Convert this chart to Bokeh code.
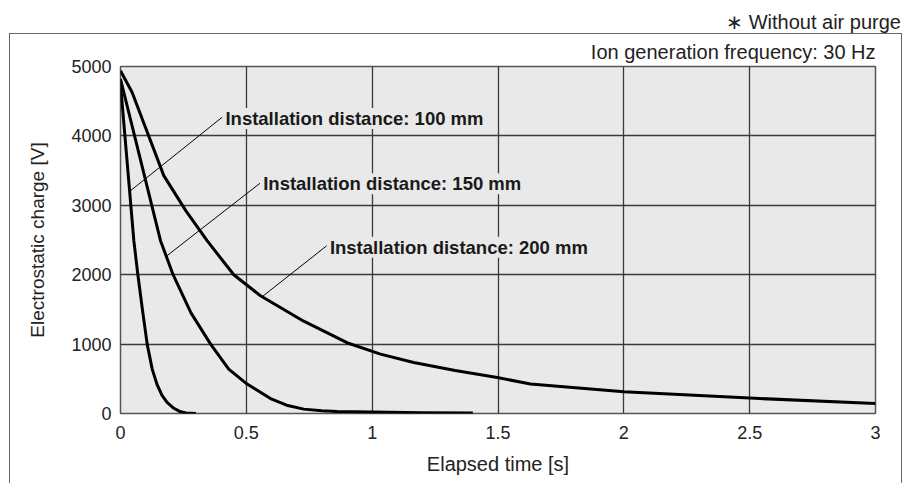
from bokeh.plotting import figure
from bokeh.models import FixedTicker, Label, Title, InlineStyleSheet
from bokeh.embed import file_html
from bokeh.resources import INLINE

# ---- data ----
t_100 = [0, 0.053, 0.069, 0.087, 0.106, 0.126, 0.145, 0.165, 0.185, 0.212, 0.235, 0.26, 0.30]
v_100 = [4750, 2490, 2000, 1500, 1000, 640, 420, 260, 160, 75, 30, 8, 0]

t_150 = [0, 0.159, 0.209, 0.28, 0.358, 0.43, 0.503, 0.596, 0.66, 0.728, 0.80, 0.861, 1.0, 1.2, 1.4]
v_150 = [4820, 2490, 2000, 1450, 1000, 640, 424, 215, 120, 63, 38, 28, 20, 12, 8]

t_200 = [0, 0.046, 0.172, 0.26, 0.344, 0.45, 0.556, 0.728, 0.9, 1.033, 1.165, 1.33, 1.497, 1.629, 2.0, 2.5, 3.0]
v_200 = [4940, 4630, 3428, 2920, 2490, 2000, 1697, 1330, 1020, 856, 736, 620, 519, 424, 315, 222, 144]

x_ticks = [0, 0.5, 1, 1.5, 2, 2.5, 3]
x_tick_labels = ["0", "0.5", "1", "1.5", "2", "2.5", "3"]
y_ticks = [0, 1000, 2000, 3000, 4000, 5000]

label_texts = ["Installation distance: 100 mm", "Installation distance: 150 mm", "Installation distance: 200 mm"]
label_x = [0.417, 0.567, 0.832]
label_y = [4249, 3312, 2394]
leader_x0 = [0.404, 0.554, 0.819]
leader_y0 = [4269, 3317, 2416]
leader_x1 = [0.037, 0.185, 0.563]
leader_y1 = [3202, 2274, 1683]

FONT = "Liberation Sans"
BG = "#e8e9e8"
TXT = "#222222"

box_css = InlineStyleSheet(css="""
:host::after {
  content: '';
  position: absolute;
  left: 9px;
  top: 33px;
  width: 893px;
  height: 450px;
  border: 1px solid #666666;
  border-bottom: none;
  box-sizing: border-box;
  pointer-events: none;
}
""")

p = figure(width=908, height=483, x_range=(0, 3), y_range=(0, 5000),
           output_backend="svg", toolbar_location=None,
           min_border_left=120, min_border_right=33, min_border_top=66, min_border_bottom=70)
p.stylesheets = [box_css]

p.background_fill_color = BG
p.border_fill_color = "white"
p.outline_line_color = "#555555"
p.outline_line_width = 1.5

for ax in (p.xaxis[0], p.yaxis[0]):
    ax.axis_line_color = None
    ax.major_tick_line_color = None
    ax.minor_tick_line_color = None
    ax.major_label_text_font = FONT
    ax.major_label_text_font_size = "18px"
    ax.major_label_text_color = TXT
    ax.axis_label_text_font = FONT
    ax.axis_label_text_font_style = "normal"
    ax.axis_label_text_color = TXT

p.xaxis.axis_label_text_font_size = "20px"
p.yaxis.axis_label_text_font_size = "19px"
p.xaxis.ticker = FixedTicker(ticks=x_ticks)
p.xaxis.major_label_overrides = {v: s for v, s in zip(x_ticks, x_tick_labels)}
p.yaxis.ticker = FixedTicker(ticks=y_ticks)
p.xaxis.axis_label = "Elapsed time [s]"
p.yaxis.axis_label = "Electrostatic charge [V]"
p.xaxis.major_label_standoff = 6
p.yaxis.major_label_standoff = 3
p.xaxis.axis_label_standoff = 11
p.yaxis.axis_label_standoff = 20

p.grid.grid_line_color = "#3a3a3a"
p.grid.grid_line_width = 1.3

# texts above the frame (outer one first, inner one appended)
p.title.text = "\u2217  Without air purge"
p.title.align = "right"
p.title.offset = -31
p.title.text_font = FONT
p.title.text_font_size = "20px"
p.title.text_font_style = "normal"
p.title.text_color = TXT
p.title.standoff = 6

freq = Title(text="Ion generation frequency: 30 Hz", align="right", text_font=FONT,
             text_font_size="20px", text_font_style="normal", text_color=TXT, standoff=7)
p.add_layout(freq, "above")

# leader lines
p.segment(x0=leader_x0, y0=leader_y0, x1=leader_x1, y1=leader_y1, line_color="black", line_width=1)

# curves
for tx, vy in ((t_100, v_100), (t_150, v_150), (t_200, v_200)):
    p.line(tx, vy, line_color="black", line_width=3, line_join="round")

for txt, lx, ly in zip(label_texts, label_x, label_y):
    p.add_layout(Label(x=lx, y=ly, text=txt, text_font=FONT, text_font_size="18.5px",
                       text_font_style="bold", text_color="#1a1a1a", text_baseline="middle",
                       text_align="left", background_fill_color=BG, background_fill_alpha=1.0))

open("out.html", "w").write(file_html(p, INLINE))
